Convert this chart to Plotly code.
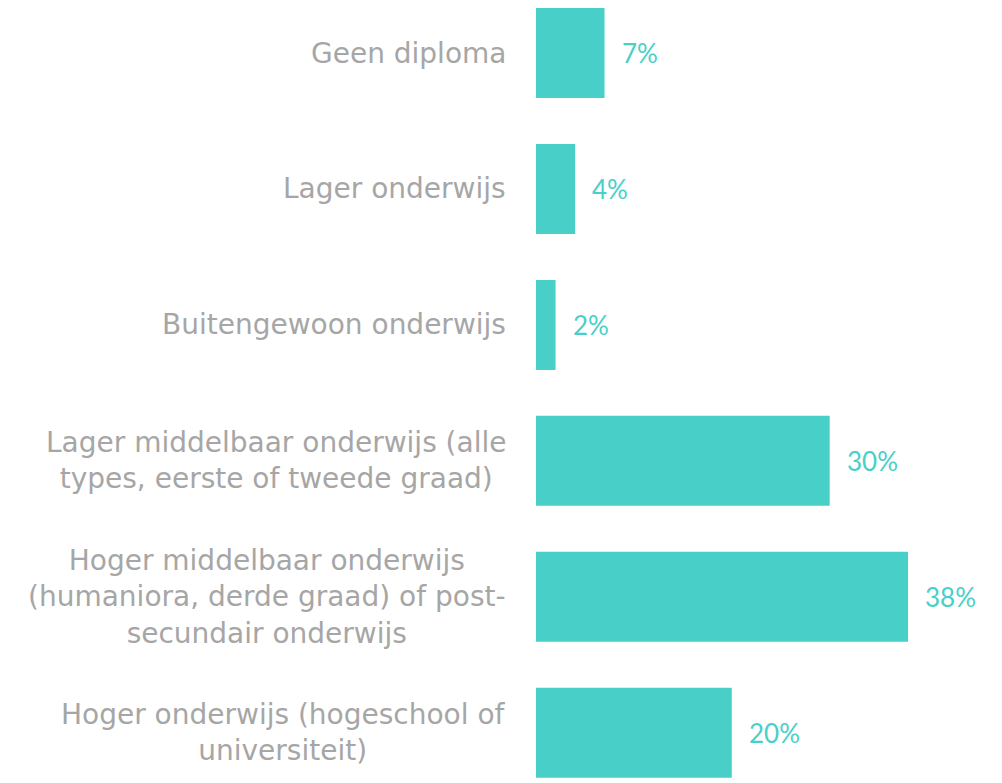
import plotly.graph_objects as go

# Opleidingsniveau: aandeel per categorie (in %)
categories = [
    "Geen diploma",
    "Lager onderwijs",
    "Buitengewoon onderwijs",
    "Lager middelbaar onderwijs (alle<br>types, eerste of tweede graad)",
    "Hoger middelbaar onderwijs<br>(humaniora, derde graad) of post-<br>secundair onderwijs",
    "Hoger onderwijs (hogeschool of<br>universiteit)",
]
values = [7, 4, 2, 30, 38, 20]
value_labels = ["7%", "4%", "2%", "30%", "38%", "20%"]

BAR_COLOR = "#48d0c8"
TEXT_GREY = "#a6a6a6"
LABEL_FONT = "DejaVu Sans"

fig = go.Figure(
    go.Bar(
        x=values,
        y=categories,
        orientation="h",
        marker=dict(color=BAR_COLOR, line=dict(width=0)),
        hoverinfo="skip",
    )
)

annotations = []
for cat, val, lab in zip(categories, values, value_labels):
    # category label to the left of the plot area, lines centred
    annotations.append(dict(
        x=0, xref="paper", y=cat, yref="y",
        text=cat, showarrow=False,
        xanchor="right", yanchor="middle", align="center",
        xshift=-28,
        font=dict(family=LABEL_FONT, size=28, color=TEXT_GREY),
    ))
    # value label just right of the bar end
    annotations.append(dict(
        x=val, xref="x", y=cat, yref="y",
        text=lab, showarrow=False,
        xanchor="left", yanchor="middle",
        xshift=15,
        font=dict(family="Lato", size=26, color=BAR_COLOR),
    ))

fig.update_layout(
    width=1002,
    height=783,
    margin=dict(l=536, r=0, t=0, b=0),
    paper_bgcolor="white",
    plot_bgcolor="white",
    bargap=0.338,
    showlegend=False,
    annotations=annotations,
    xaxis=dict(range=[0, 47.6], visible=False, fixedrange=True),
    yaxis=dict(
        type="category",
        range=[5.37, -0.39],
        showticklabels=False,
        showgrid=False,
        zeroline=False,
        showline=False,
        ticks="",
        fixedrange=True,
    ),
)

fig.write_html("out.html")
